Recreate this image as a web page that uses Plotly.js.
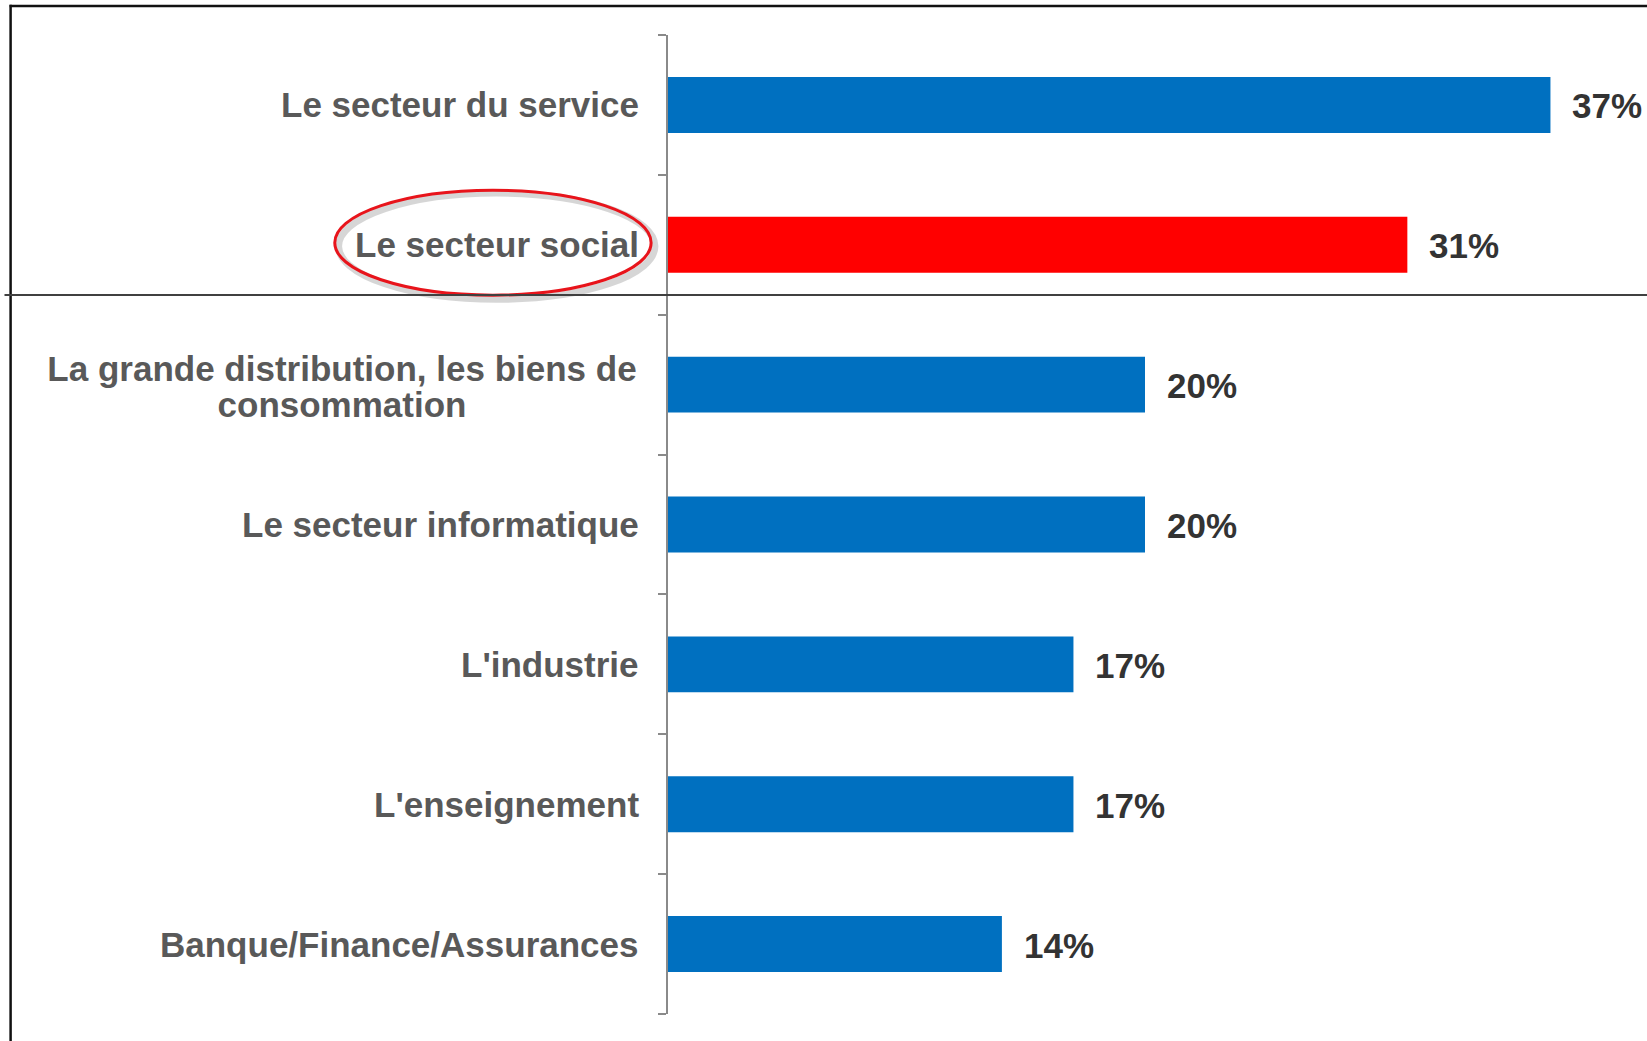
<!DOCTYPE html>
<html>
<head>
<meta charset="utf-8">
<script src="https://cdn.plot.ly/plotly-3.0.1.min.js"></script>
<style>
html,body{margin:0;padding:0;background:#fff;}
#chart{width:1647px;height:1041px;}
</style>
</head>
<body>
<div id="chart"></div>
<script>
// Data (top to bottom)
const categories = [
  "Le secteur du service",
  "Le secteur social",
  "La grande distribution, les biens de<br>consommation",
  "Le secteur informatique",
  "L'industrie",
  "L'enseignement",
  "Banque/Finance/Assurances"
];
const values = [37, 31, 20, 20, 17, 17, 14];
const valueLabels = ["37%", "31%", "20%", "20%", "17%", "17%", "14%"];
const highlighted = "Le secteur social";

const BLUE = "#0070C0", RED = "#FF0000";
const FONT = "'Liberation Sans', Arial, Helvetica, sans-serif";
const CAT_SIZE = 35, VAL_SIZE = 35, LINE_GAP = 36;

const idx = categories.map((_, i) => i);
const colors = categories.map(c => c === highlighted ? RED : BLUE);

const trace = {
  type: "bar",
  orientation: "h",
  x: values,
  y: idx,
  marker: {color: colors, line: {width: 0}},
  hoverinfo: "skip",
  cliponaxis: false
};

// measure text width for centred multi-line labels
const cv = document.createElement("canvas").getContext("2d");
cv.font = "bold " + CAT_SIZE + "px " + FONT;
function tw(s) { return cv.measureText(s).width; }

const annotations = [];
categories.forEach((c, i) => {
  const lines = c.split("<br>");
  const boxW = Math.ceil(Math.max(...lines.map(tw))) + 4;
  lines.forEach((ln, k) => {
    annotations.push({
      xref: "paper", yref: "y", x: 0, y: i,
      xanchor: "right", yanchor: "middle", xshift: -27,
      yshift: ((lines.length - 1) / 2 - k) * LINE_GAP - (lines.length > 1 ? 2 : 0),
      width: lines.length > 1 ? boxW : undefined,
      text: ln, showarrow: false, align: "center",
      font: {family: FONT, size: CAT_SIZE, color: "#595959", weight: 700}
    });
  });
  annotations.push({
    xref: "x", yref: "y", x: values[i], y: i,
    xanchor: "left", yanchor: "middle", xshift: 20, yshift: -1,
    text: valueLabels[i], showarrow: false,
    font: {family: FONT, size: VAL_SIZE, color: "#333333", weight: 700}
  });
});

const hi = categories.indexOf(highlighted);
const shapes = [
  // ellipse shadow
  {type: "circle", xref: "paper", yref: "y", x0: -0.3453, x1: -0.0137, y0: hi - 0.37, y1: hi + 0.39,
   line: {color: "rgba(0,0,0,0.16)", width: 7}, layer: "above"},
  // highlight ellipse
  {type: "circle", xref: "paper", yref: "y", x0: -0.3493, x1: -0.0177, y0: hi - 0.39, y1: hi + 0.36,
   line: {color: "#E8141B", width: 3}, layer: "above"},
  // frame: top border
  {type: "line", xref: "paper", yref: "paper", x0: -0.6901, x1: 1.03, y0: 1.0296, y1: 1.0296,
   line: {color: "#111111", width: 2.5}, layer: "above"},
  // frame: left border
  {type: "line", xref: "paper", yref: "paper", x0: -0.6891, x1: -0.6891, y0: -0.05, y1: 1.031,
   line: {color: "#111111", width: 2.5}, layer: "above"},
  // separator line
  {type: "line", xref: "paper", yref: "paper", x0: -0.6955, x1: 1.03, y0: 0.7344, y1: 0.7344,
   line: {color: "#404040", width: 2}, layer: "above"}
];

const layout = {
  width: 1647, height: 1041,
  margin: {l: 668, r: 25, t: 35, b: 27, pad: 0},
  paper_bgcolor: "#ffffff", plot_bgcolor: "#ffffff",
  showlegend: false,
  bargap: 0.6,
  xaxis: {range: [0, 40], showgrid: false, zeroline: false, showline: false,
          showticklabels: false, ticks: "", fixedrange: true},
  yaxis: {type: "linear", range: [6.5, -0.5], showgrid: false, zeroline: false,
          showline: true, linecolor: "#8a8a8a", linewidth: 2,
          ticks: "outside", ticklen: 8, tickwidth: 2, tickcolor: "#8a8a8a",
          tickmode: "array", tickvals: [-0.5, 0.5, 1.5, 2.5, 3.5, 4.5, 5.5, 6.5],
          showticklabels: false, fixedrange: true},
  annotations: annotations,
  shapes: shapes
};

Plotly.newPlot("chart", [trace], layout, {staticPlot: true, displayModeBar: false});
</script>
</body>
</html>
